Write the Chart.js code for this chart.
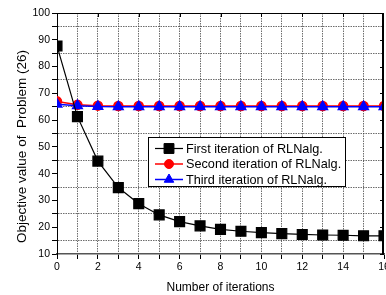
<!DOCTYPE html>
<html>
<head>
<meta charset="utf-8">
<script src="https://cdn.jsdelivr.net/npm/chart.js@4/dist/chart.umd.min.js"></script>
<style>
html,body{margin:0;padding:0;background:#fff;overflow:hidden;}
#wrap{width:400px;height:295px;}
</style>
</head>
<body>
<div id="wrap"><canvas id="c" width="400" height="295"></canvas></div>
<script>
const iterations = [0,1,2,3,4,5,6,7,8,9,10,11,12,13,14,15,16];
const firstIter  = [87.7,61.3,44.7,34.8,28.8,24.6,22.1,20.5,19.2,18.5,18.0,17.6,17.3,17.1,17.0,16.8,16.8];
const secondIter = [67.0,65.7,65.4,65.3,65.3,65.3,65.3,65.3,65.3,65.3,65.3,65.3,65.3,65.3,65.3,65.3,65.3];
const thirdIter  = [65.9,65.4,65.1,65.0,65.0,65.0,65.0,65.0,65.0,65.0,65.0,65.0,65.0,65.0,65.0,65.0,65.0];
const seriesNames = ['First iteration of RLNalg.','Second iteration of RLNalg.','Third iteration of RLNalg.'];
const xTitle = 'Number of iterations';
const yTitle = 'Objective value of  Problem (26)';

const toXY = arr => arr.map((v,i)=>({x:iterations[i], y:v}));
const FONT = '"Liberation Sans", Arial, sans-serif';

const framePlugin = {
  id:'frame',
  afterDatasetsDraw(chart){
    const {ctx, chartArea:a, scales} = chart;
    ctx.save();
    ctx.strokeStyle = '#000';
    ctx.lineWidth = 1;
    ctx.beginPath(); ctx.moveTo(a.left, a.top+0.5); ctx.lineTo(a.right, a.top+0.5); ctx.stroke();
    ctx.lineWidth = 2;
    ctx.beginPath(); ctx.moveTo(a.right-1, a.top); ctx.lineTo(a.right-1, a.bottom); ctx.stroke();
    ctx.lineWidth = 1;
    for (let v=10; v<=100; v+=10){
      const y = Math.round(scales.y.getPixelForValue(v))+0.5;
      ctx.beginPath(); ctx.moveTo(a.right, y); ctx.lineTo(a.right-4, y); ctx.stroke();
    }
    for (let v=2; v<16; v+=2){
      const x = Math.round(scales.x.getPixelForValue(v))+0.5;
      ctx.beginPath(); ctx.moveTo(x, a.top); ctx.lineTo(x, a.top+4); ctx.stroke();
    }
    ctx.restore();
  },
  afterDraw(chart){
    const {ctx, chartArea:a} = chart;
    const lx = a.left + 91, ly = a.top + 124, lw = 197, lh = 49;
    ctx.save();
    ctx.fillStyle = '#fff';
    ctx.fillRect(lx, ly, lw, lh);
    ctx.strokeStyle = '#000';
    ctx.lineWidth = 1;
    ctx.strokeRect(lx+0.5, ly+0.5, lw, lh);
    ctx.font = '12.7px ' + FONT;
    ctx.textBaseline = 'middle';
    chart.data.datasets.forEach((ds, i) => {
      const y = ly + 11.5 + i*15.5;
      ctx.strokeStyle = ds.borderColor;
      ctx.lineWidth = ds.borderWidth;
      ctx.beginPath(); ctx.moveTo(lx+7, y); ctx.lineTo(lx+35, y); ctx.stroke();
      ctx.fillStyle = ds.pointBackgroundColor;
      ctx.strokeStyle = ds.pointBorderColor;
      ctx.lineWidth = 1;
      Chart.helpers.drawPoint(ctx, {pointStyle: ds.pointStyle, rotation:0, borderWidth:1, radius: ds.pointRadius}, lx+21, y);
      ctx.fillStyle = '#000';
      ctx.fillText(ds.label, lx+38, y+0.5);
    });
    ctx.save();
    ctx.translate(22, 146.5);
    ctx.rotate(-Math.PI/2);
    ctx.font = '13.5px ' + FONT;
    ctx.textAlign = 'center';
    ctx.textBaseline = 'middle';
    ctx.fillStyle = '#000';
    ctx.fillText(yTitle, 0, 0);
    ctx.restore();
    ctx.restore();
  }
};

new Chart(document.getElementById('c'), {
  type:'line',
  data:{
    datasets:[
      {label:seriesNames[0], data:toXY(firstIter), borderColor:'#000', backgroundColor:'#000', order:0,
       pointBackgroundColor:'#000', pointBorderColor:'#000', borderWidth:1.2, pointStyle:'rect', pointRadius:7, pointHoverRadius:7, clip:0},
      {label:seriesNames[1], data:toXY(secondIter), borderColor:'#ff0000', backgroundColor:'#ff0000', order:2,
       pointBackgroundColor:'#ff0000', pointBorderColor:'#ff0000', borderWidth:1.5, pointStyle:'circle', pointRadius:4.5, pointHoverRadius:4.5, clip:0},
      {label:seriesNames[2], data:toXY(thirdIter), borderColor:'#0000ff', backgroundColor:'#0000ff', order:1,
       pointBackgroundColor:'#0000ff', pointBorderColor:'#0000ff', borderWidth:1.5, pointStyle:'triangle', pointRadius:5.5, pointHoverRadius:5.5, clip:0}
    ]
  },
  options:{
    responsive:false,
    animation:false,
    events:[],
    layout:{padding:{top:13, right:16, left:0, bottom:0}},
    plugins:{legend:{display:false}, tooltip:{enabled:false}},
    scales:{
      x:{
        type:'linear', min:0, max:16,
        afterFit(s){ s.height = 41; },
        ticks:{stepSize:1, color:'#000', font:{family:FONT, size:10.5}, padding:2,
               maxRotation:0, autoSkip:false,
               callback:v => (v%2===0 ? String(v) : '')},
        grid:{color:ctx => (ctx.tick && (ctx.tick.value===0 || ctx.tick.value===16)) ? 'rgba(0,0,0,0)' : 'rgba(60,60,60,0.75)',
              tickColor:'#000', tickLength:5, lineWidth:1},
        border:{color:'#555', width:1.6, dash:[1.5,1]},
        title:{display:true, text:xTitle, color:'#000', font:{family:FONT, size:12}, padding:{top:0,bottom:0}}
      },
      y:{
        type:'linear', min:10, max:100,
        afterFit(s){ s.width = 57; },
        ticks:{stepSize:5, color:'#000', font:{family:FONT, size:10.5}, padding:2,
               autoSkip:false,
               callback:v => (v%10===0 ? String(v) : '')},
        grid:{color:ctx => (ctx.tick && ctx.tick.value%10!==0) ? 'rgba(60,60,60,0.75)' : 'rgba(0,0,0,0)',
              tickColor:'#000', tickLength:5, lineWidth:1},
        border:{color:'#000', width:1, dash:[1.5,1]},
        title:{display:false}
      }
    }
  },
  plugins:[framePlugin]
});
</script>
</body>
</html>
